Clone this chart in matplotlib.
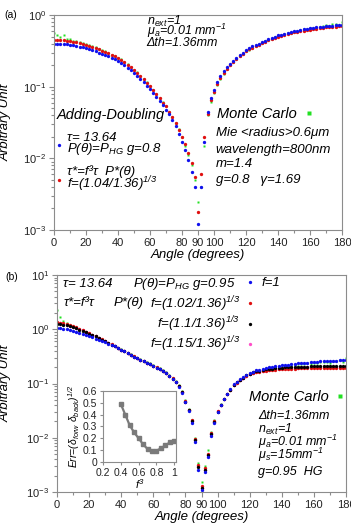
import numpy as np
import matplotlib
matplotlib.use('Agg')
import matplotlib.pyplot as plt
from matplotlib.ticker import MultipleLocator, FuncFormatter

plt.rcParams['font.family'] = ['Liberation Sans', 'DejaVu Sans']
plt.rcParams['mathtext.default'] = 'regular'

# scattering angle grid (degrees)
angles = np.arange(0, 182, 2)

# ---- panel (a) : g=0.8 ----
ad_tau_a = ([.400, .399, .398, .395, .392, .385, .378, .370, .362, .353, .343, .333, .322, .311, .300,
             .289, .277, .266, .254, .242, .230, .215, .200, .185, .170, .155, .142, .128, .115, .103,
             .092, .082, .072, .063, .055, .048, .041, .034, .028, .022, .017, .013, .0095, .0065, .0040]
            + [.0012] +
            [.004, .017, .045, .070, .090, .115, .140, .165, .188, .210, .232, .255, .277, .300, .325,
             .345, .365, .383, .400, .420, .440, .460, .480, .500, .520, .535, .550, .565, .580, .595,
             .607, .619, .630, .642, .655, .665, .675, .684, .692, .700, .707, .714, .720, .725, .730])
ad_scaled_a = ([.450, .449, .447, .444, .440, .433, .425, .416, .406, .395, .384, .372, .360, .347, .334,
                .320, .306, .292, .278, .264, .250, .235, .219, .203, .187, .171, .156, .141, .127, .114,
                .101, .090, .079, .069, .060, .053, .045, .038, .031, .025, .020, .016, .012, .0085, .0055]
               + [.0018] +
               [.006, .020, .042, .065, .085, .108, .132, .156, .178, .200, .222, .244, .266, .288, .312,
                .332, .352, .370, .387, .405, .424, .443, .462, .480, .500, .515, .530, .545, .558, .572,
                .584, .595, .606, .617, .628, .638, .647, .656, .664, .671, .678, .685, .690, .695, .700])
mc_a = ([.56, .53, .50, .52, .47, .46, .44, .43, .42, .41, .39, .38, .365, .355, .34,
         .325, .31, .30, .28, .27, .255, .24, .222, .205, .19, .172, .158, .142, .128, .115,
         .102, .091, .080, .070, .061, .053, .045, .038, .031, .026, .020, .015, .011, .008, .005]
        + [.0025] +
        [.004, .015, .040, .062, .083, .106, .128, .152, .175, .198, .22, .24, .265, .285, .31,
         .33, .35, .37, .39, .41, .43, .45, .47, .49, .51, .52, .54, .56, .57, .585,
         .60, .61, .63, .64, .65, .66, .67, .68, .70, .72, .70, .74, .76, .73, .80])

# ---- panel (b) : g=0.95 ----
f1_b = ([1.05, 1.04, 1.02, 1.00, 0.98, 0.94, 0.90, 0.86, 0.82, 0.78, 0.74, 0.71, 0.67, 0.64, 0.605,
         0.575, 0.545, 0.515, 0.485, 0.455, 0.42, 0.39, 0.365, 0.34, 0.315, 0.29, 0.272, 0.255, 0.24, 0.225,
         0.21, 0.197, 0.184, 0.171, 0.155, 0.138, 0.122, 0.105, 0.088, 0.068, 0.045, 0.031, 0.019, 0.0083, 0.0026]
        + [.0011] +
        [.0023, .0045, .011, .019, .030, .040, .051, .063, .078, .096, .108, .120, .133, .146, .158,
         .166, .174, .181, .187, .193, .198, .203, .208, .212, .216, .220, .224, .228, .232, .235,
         .238, .241, .244, .247, .250, .253, .255, .257, .259, .261, .263, .265, .267, .268, .270])
f102_b = ([1.35, 1.33, 1.30, 1.25, 1.20, 1.15, 1.09, 1.03, 0.97, 0.91, 0.85, 0.80, 0.75, 0.70, 0.65,
           0.60, 0.56, 0.525, 0.49, 0.457, 0.424, 0.393, 0.366, 0.341, 0.316, 0.291, 0.273, 0.256, 0.241, 0.226,
           0.211, 0.198, 0.185, 0.172, 0.156, 0.140, 0.124, 0.107, 0.090, 0.070, 0.047, 0.033, 0.021, 0.0095, 0.0032]
          + [.0013] +
          [.0028, .0050, .012, .020, .031, .041, .052, .063, .077, .093, .104, .115, .126, .137, .147,
           .154, .160, .165, .169, .173, .176, .179, .181, .183, .185, .186, .187, .188, .189, .190,
           .190, .191, .191, .192, .192, .192, .193, .193, .193, .194, .194, .194, .195, .195, .195])
f110_b = ([1.25, 1.24, 1.22, 1.19, 1.15, 1.10, 1.05, 0.99, 0.94, 0.88, 0.83, 0.78, 0.74, 0.69, 0.645,
           0.60, 0.555, 0.52, 0.487, 0.455, 0.422, 0.391, 0.365, 0.340, 0.315, 0.290, 0.272, 0.255, 0.240, 0.225,
           0.210, 0.197, 0.184, 0.171, 0.155, 0.139, 0.123, 0.106, 0.089, 0.069, 0.046, 0.032, 0.020, 0.009, 0.0029]
          + [.0012] +
          [.0025, .0048, .0115, .0195, .0305, .0405, .0515, .063, .0775, .0945, .106, .117, .129, .141, .152,
           .160, .167, .173, .178, .182, .186, .189, .192, .194, .196, .198, .200, .201, .202, .203,
           .204, .205, .206, .207, .208, .209, .210, .210, .211, .211, .212, .212, .213, .213, .214])
f115_b = ([1.30, 1.29, 1.26, 1.22, 1.17, 1.12, 1.07, 1.01, 0.955, 0.90, 0.84, 0.79, 0.745, 0.695, 0.648,
           0.60, 0.557, 0.522, 0.488, 0.456, 0.423, 0.392, 0.365, 0.34, 0.315, 0.29, 0.272, 0.255, 0.24, 0.225,
           0.21, 0.197, 0.184, 0.171, 0.155, 0.139, 0.123, 0.106, 0.089, 0.069, 0.046, 0.032, 0.020, 0.009, 0.003]
          + [.0012] +
          [.0026, .0049, .0118, .0198, .0308, .0408, .0518, .063, .0772, .094, .105, .116, .128, .139, .150,
           .157, .163, .169, .173, .177, .181, .184, .187, .189, .191, .193, .194, .195, .196, .197,
           .198, .199, .200, .200, .201, .201, .202, .202, .203, .203, .204, .204, .204, .205, .205])
mc_b = ([2.30, 1.70, 1.45, 1.32, 1.22, 1.12, 1.05, 0.98, 0.93, 0.88, 0.82, 0.77, 0.73, 0.68, 0.64,
         0.60, 0.56, 0.52, 0.49, 0.46, 0.425, 0.395, 0.37, 0.345, 0.32, 0.30, 0.28, 0.265, 0.25, 0.235,
         0.22, 0.205, 0.19, 0.175, 0.16, 0.142, 0.126, 0.11, 0.092, 0.072, 0.05, 0.034, 0.021, 0.010, 0.0035]
        + [.0015] +
        [.003, .006, .013, .021, .031, .042, .052, .064, .078, .094, .105, .116, .128, .14, .15,
         .158, .165, .172, .176, .18, .186, .19, .195, .197, .20, .21, .205, .215, .22, .215,
         .225, .23, .235, .225, .24, .24, .245, .25, .25, .235, .255, .26, .27, .25, .29])

# inset: error vs f^3
f3 = [0.40, 0.45, 0.50, 0.55, 0.60, 0.65, 0.70, 0.75, 0.80, 0.85, 0.90, 0.95, 1.00]
err = [0.49, 0.40, 0.31, 0.25, 0.20, 0.15, 0.11, 0.09, 0.095, 0.115, 0.14, 0.165, 0.18]

BLUE, RED, GREEN, PINK = '#1010ee', '#e01010', '#22e022', '#ff4fc8'
GRAY = '#8c8c8c'
IT = dict(style='italic')
SMALL = 9.5

fig = plt.figure(figsize=(3.51, 5.26), dpi=100)
ax1 = fig.add_axes([0.1538, 0.5627, 0.8205, 0.4087])
ax2 = fig.add_axes([0.1624, 0.0646, 0.8234, 0.4125])


def style_axes(ax, ylim, ylab_x):
    ax.set_yscale('log')
    ax.set_ylim(*ylim)
    ax.set_xlim(0, 180)
    ax.set_xticks([0, 20, 40, 60, 80, 90, 100, 120, 140, 160, 180])
    ax.xaxis.set_minor_locator(MultipleLocator(10))
    for s in ax.spines.values():
        s.set_color(GRAY)
    ax.tick_params(which='both', colors=GRAY, labelcolor='#222222', labelsize=8, width=0.8)
    ax.tick_params(which='major', length=3.5, pad=2)
    ax.tick_params(which='minor', length=2)
    ax.set_xlabel('Angle (degrees)', fontsize=9.5, labelpad=1, **IT)
    ax.set_ylabel('Arbitrary Unit', fontsize=9.5, **IT)
    ax.yaxis.set_label_coords(ylab_x, 0.5)


def add_lines(ax, x, rows, size):
    for txt, y in rows:
        ax.text(x, y, txt, transform=ax.transAxes, fontsize=size, va='baseline', **IT)


ms = 2.4
# panel (a)
ax1.plot(angles, mc_a, 's', ms=1.8, color=GREEN, mec='none')
h_r = ax1.plot(angles, ad_scaled_a, 'o', ms=ms, color=RED, mec='none')[0]
h_b = ax1.plot(angles, ad_tau_a, 'o', ms=ms, color=BLUE, mec='none')[0]
h_g, = ax1.plot([], [], 's', ms=2.6, color=GREEN, mec='none')
style_axes(ax1, (1e-3, 1), -0.146)

add_lines(ax1, 0.322, [('n$_{ext}$=1', 0.953), ('μ$_a$=0.01 mm$^{-1}$', 0.905), ('Δth=1.36mm', 0.855)], 9)
ax1.text(0.01, 0.535, 'Adding-Doubling', transform=ax1.transAxes, fontsize=10.5, va='center', **IT)
leg = ax1.legend([h_b, h_r], ['τ= 13.64\nP(θ)=P$_{HG}$ g=0.8', 'τ*=f³τ  P*(θ)\nf=(1.04/1.36)$^{1/3}$'],
                 loc='upper left', bbox_to_anchor=(0.005, 0.455), frameon=False, numpoints=1,
                 handlelength=0.5, handletextpad=0.35, labelspacing=0.6, borderpad=0, borderaxespad=0,
                 prop=dict(style='italic', size=SMALL))
for t in leg.get_texts():
    t.set_linespacing(0.75)
ax1.add_artist(leg)
ax1.legend([h_g], ['Monte Carlo'], loc='center left', bbox_to_anchor=(0.565, 0.54), frameon=False,
           markerfirst=False, numpoints=1, handlelength=0.5, handletextpad=0.6, borderpad=0,
           borderaxespad=0, prop=dict(style='italic', size=10.5))
add_lines(ax1, 0.562, [('Mie <radius>0.6μm', 0.439), ('wavelength=800nm', 0.358), ('m=1.4', 0.294),
                       ('g=0.8   γ=1.69', 0.220)], SMALL)

# panel (b)
ax2.plot(angles, mc_b, 's', ms=1.8, color=GREEN, mec='none')
h_p = ax2.plot(angles, f115_b, 'o', ms=ms, color=PINK, mec='none')[0]
h_r2 = ax2.plot(angles, f102_b, 'o', ms=ms, color=RED, mec='none')[0]
h_k = ax2.plot(angles, f110_b, 'o', ms=ms, color='black', mec='none')[0]
h_b2 = ax2.plot(angles, f1_b, 'o', ms=ms, color=BLUE, mec='none')[0]
h_g2, = ax2.plot([], [], 's', ms=2.6, color=GREEN, mec='none')
style_axes(ax2, (1e-3, 10), -0.156)

add_lines(ax2, 0.021, [('τ= 13.64', 0.946), ('τ*=f³τ', 0.856)], SMALL)
add_lines(ax2, 0.263, [('P(θ)=P$_{HG}$ g=0.95', 0.946)], SMALL)
add_lines(ax2, 0.197, [('P*(θ)', 0.856)], SMALL)
leg = ax2.legend([h_b2], ['f=1'], loc='center left', bbox_to_anchor=(0.658, 0.963), frameon=False,
                 numpoints=1, handlelength=0.5, handletextpad=0.6, borderpad=0, borderaxespad=0,
                 prop=dict(style='italic', size=SMALL))
ax2.add_artist(leg)
leg = ax2.legend([h_r2, h_k, h_p], ['f=(1.02/1.36)$^{1/3}$', 'f=(1.1/1.36)$^{1/3}$', 'f=(1.15/1.36)$^{1/3}$'],
                 loc='upper left', bbox_to_anchor=(0.322, 0.912), frameon=False, markerfirst=False,
                 numpoints=1, handlelength=0.5, handletextpad=0.5, labelspacing=0.05, borderpad=0,
                 borderaxespad=0, prop=dict(style='italic', size=SMALL))
ax2.add_artist(leg)
ax2.legend([h_g2], ['Monte Carlo'], loc='center left', bbox_to_anchor=(0.665, 0.438), frameon=False,
           markerfirst=False, numpoints=1, handlelength=0.5, handletextpad=0.5, borderpad=0,
           borderaxespad=0, prop=dict(style='italic', size=10.5))
add_lines(ax2, 0.696, [('Δth=1.36mm', 0.336), ('n$_{ext}$=1', 0.272), ('μ$_a$=0.01 mm$^{-1}$', 0.213),
                       ('μ$_s$=15mm$^{-1}$', 0.150), ('g=0.95  HG', 0.078)], 9)

# inset
axin = fig.add_axes([0.2934, 0.1217, 0.208, 0.135])
axin.plot(f3, err, '-s', color='#7a7a7a', ms=2.6, lw=1.6)
axin.set_xlim(0.2, 1.02)
axin.set_ylim(0, 0.6)
axin.set_xticks([0.2, 0.4, 0.6, 0.8, 1.0])
axin.set_yticks([0, 0.1, 0.2, 0.3, 0.4, 0.5, 0.6])
axin.xaxis.set_major_formatter(FuncFormatter(lambda v, p: '%g' % v))
axin.yaxis.set_major_formatter(FuncFormatter(lambda v, p: '%g' % v))
for s in axin.spines.values():
    s.set_color(GRAY)
axin.tick_params(colors=GRAY, labelcolor='#222222', labelsize=7.5, length=2.5, width=0.8, pad=1.5)
axin.set_xlabel('f$^3$', fontsize=8, labelpad=0, **IT)
axin.set_ylabel('Err=(δ$_{forw}$ δ$_{back}$)$^{1/2}$', fontsize=7.5, labelpad=1, **IT)

fig.text(11 / 351, 1 - 15 / 526, '(a)', fontsize=7.5, ha='center', va='center')
fig.text(12 / 351, 1 - 277 / 526, '(b)', fontsize=7.5, ha='center', va='center')

fig.savefig('out.png', dpi=100)
